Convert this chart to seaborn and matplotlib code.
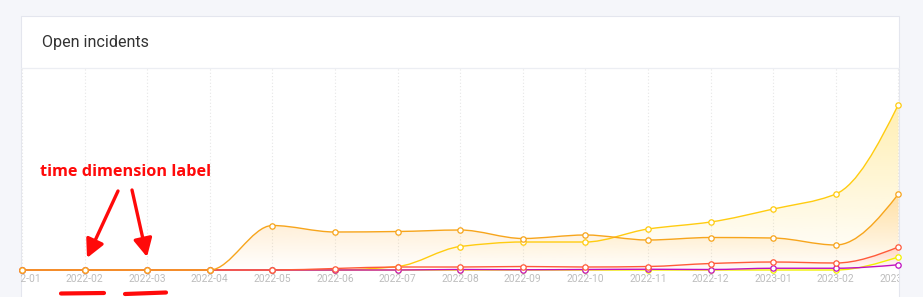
import numpy as np
import pandas as pd
import matplotlib
matplotlib.use("Agg")
import matplotlib.pyplot as plt
import seaborn as sns
from matplotlib.path import Path
from matplotlib.patches import PathPatch, Rectangle, FancyArrowPatch, ArrowStyle
from matplotlib.lines import Line2D
from matplotlib.colors import to_rgb

# ---------------- data ----------------
months = ["2022-01", "2022-02", "2022-03", "2022-04", "2022-05", "2022-06", "2022-07",
          "2022-08", "2022-09", "2022-10", "2022-11", "2022-12", "2023-01", "2023-02",
          "2023-03"]
orange = [0, 0, 0, 0, 8.9, 7.6, 7.7, 8.0, 6.3, 7.0, 6.0, 6.5, 6.4, 5.0, 15.2]
gold = [0, 0, 0, 0, 0, 0, 0.7, 4.7, 5.6, 5.6, 8.2, 9.6, 12.2, 15.2, 33.1]
red = [0, 0, 0, 0, 0, 0.3, 0.6, 0.6, 0.7, 0.6, 0.7, 1.3, 1.6, 1.4, 4.6]
magenta = [0, 0, 0, 0, 0, 0, 0, 0.1, 0.05, 0.1, 0.15, 0.1, 0.35, 0.35, 1.05]
lemon = [0, 0, 0, 0, 0, 0, 0, 0, 0, 0, 0, 0, 0, 0, 2.6]

C_ORANGE = "#f7a51c"
C_GOLD = "#ffcc10"
C_RED = "#ff5a3a"
C_MAGENTA = "#c010c0"
C_LEMON = "#f2f000"

W, H = 923, 297


def fx(x):
    return x / W


def fy(y):
    return 1 - y / H


def tangents(x, y):
    x = np.asarray(x, float)
    y = np.asarray(y, float)
    n = len(x)
    h = np.diff(x)
    dl = np.diff(y) / h
    d = np.zeros(n)
    for k in range(1, n - 1):
        if dl[k - 1] * dl[k] <= 0:
            d[k] = 0
        else:
            w1 = 2 * h[k] + h[k - 1]
            w2 = h[k] + 2 * h[k - 1]
            d[k] = (w1 + w2) / (w1 / dl[k - 1] + w2 / dl[k])

    def end(h0, h1, d0, d1):
        v = ((2 * h0 + h1) * d0 - h0 * d1) / (h0 + h1)
        if np.sign(v) != np.sign(d0):
            v = 0
        elif np.sign(d0) != np.sign(d1) and abs(v) > abs(3 * d0):
            v = 3 * d0
        return v

    d[0] = end(h[0], h[1], dl[0], dl[1])
    d[-1] = end(h[-1], h[-2], dl[-1], dl[-2])
    return d


def smooth_path(x, y, closed=False):
    d = tangents(x, y)
    verts = [(x[0], y[0])]
    codes = [Path.MOVETO]
    for i in range(len(x) - 1):
        hh = x[i + 1] - x[i]
        verts += [(x[i] + hh / 3, y[i] + d[i] * hh / 3),
                  (x[i + 1] - hh / 3, y[i + 1] - d[i + 1] * hh / 3),
                  (x[i + 1], y[i + 1])]
        codes += [Path.CURVE4] * 3
    if closed:
        verts += [(x[-1], 0), (x[0], 0), (x[0], y[0])]
        codes += [Path.LINETO, Path.LINETO, Path.CLOSEPOLY]
    return Path(verts, codes)


sns.set_theme(style="white")
plt.rcParams["font.family"] = ["Roboto", "DejaVu Sans"]

fig = plt.figure(figsize=(W / 100, H / 100), dpi=100, facecolor="#f5f6fa")

card = Rectangle((fx(21), fy(330)), fx(899) - fx(21), fy(16) - fy(330),
                 transform=fig.transFigure, facecolor="white",
                 edgecolor="#e4e6ee", linewidth=0.8, zorder=-5)
fig.add_artist(card)
fig.add_artist(Line2D([fx(21), fx(899)], [fy(67.5), fy(67.5)], transform=fig.transFigure,
                      color="#eceef3", linewidth=0.9, zorder=-4))
fig.text(fx(42), fy(43), "Open incidents", fontsize=11.6, color="#333333",
         ha="left", va="center")

ax = fig.add_axes([fx(21), fy(270), fx(899) - fx(21), fy(67.5) - fy(270)])
ax.set_facecolor("none")

x = np.arange(len(months), dtype=float)

# gradient area fills
fills = [(gold, C_GOLD, 0.32), (orange, "#ffa824", 0.30), (red, "#ff6a5a", 0.25)]
for vals, col, atop in fills:
    vals = np.asarray(vals, float)
    fp = PathPatch(smooth_path(x, vals, closed=True), facecolor="none",
                   edgecolor="none", transform=ax.transData)
    ax.add_patch(fp)
    n = 256
    rgba = np.zeros((n, 1, 4))
    rgba[..., :3] = to_rgb(col)
    rgba[:, 0, 3] = np.linspace(0, 1, n) * atop
    im = ax.imshow(rgba, extent=[x[0], x[-1], 0, vals.max()], origin="lower",
                   aspect="auto", interpolation="bilinear", zorder=1)
    im.set_clip_path(fp)

# smooth lines
lines = [(gold, C_GOLD), (lemon, C_LEMON), (magenta, C_MAGENTA), (red, C_RED),
         (orange, C_ORANGE)]
z = 3
for vals, col in lines:
    lp = PathPatch(smooth_path(x, np.asarray(vals, float)), facecolor="none",
                   edgecolor=col, linewidth=1.0, transform=ax.transData,
                   zorder=z, clip_on=False)
    ax.add_patch(lp)
    z += 1

# markers
for vals, col in lines:
    df = pd.DataFrame({"month": x, "value": vals})
    sns.scatterplot(data=df, x="month", y="value", ax=ax, color="white",
                    edgecolor=col, linewidth=0.9, s=15, zorder=z, clip_on=False,
                    legend=False)
    z += 1

ax.set_xlim(-1 / 62.6, 14 + 0.6 / 62.6)
ax.set_ylim(0, 40.5)
ax.set_xticks(x)
ax.set_xticklabels(months)
ax.set_yticks([])
ax.set_xlabel("")
ax.set_ylabel("")
ax.tick_params(axis="x", length=0, pad=3, labelsize=7.4, labelcolor="#bdbdbd")
ax.grid(axis="x", color="#e6e6e6", linestyle=(0, (1, 2)), linewidth=0.8)
ax.set_axisbelow(True)
for s in ax.spines.values():
    s.set_visible(False)
for lab in ax.get_xticklabels():
    lab.set_clip_path(card)

# red annotation drawn on top of the screenshot
fig.text(fx(40), fy(172), "time dimension label", fontsize=11.7, fontweight="bold",
         color="#ff0a0a", family=["Open Sans", "DejaVu Sans"], ha="left", va="center",
         zorder=20)
for (x0, y0), (x1, y1) in [((118, 191), (87, 258)), ((132, 190), (147, 257))]:
    arr = FancyArrowPatch((fx(x0), fy(y0)), (fx(x1), fy(y1)), transform=fig.transFigure,
                          arrowstyle=ArrowStyle("-|>", head_length=0.55, head_width=0.28),
                          mutation_scale=20, color="#ff0a0a", linewidth=2.4,
                          shrinkA=0, shrinkB=0, zorder=20)
    fig.add_artist(arr)
for (x0, y0), (x1, y1) in [((61, 293.5), (104, 293)), ((125, 294), (166, 292.5))]:
    fig.add_artist(Line2D([fx(x0), fx(x1)], [fy(y0), fy(y1)], transform=fig.transFigure,
                          color="#ff0a0a", linewidth=3, solid_capstyle="round", zorder=20))

fig.savefig("out.png", dpi=100, facecolor=fig.get_facecolor())
